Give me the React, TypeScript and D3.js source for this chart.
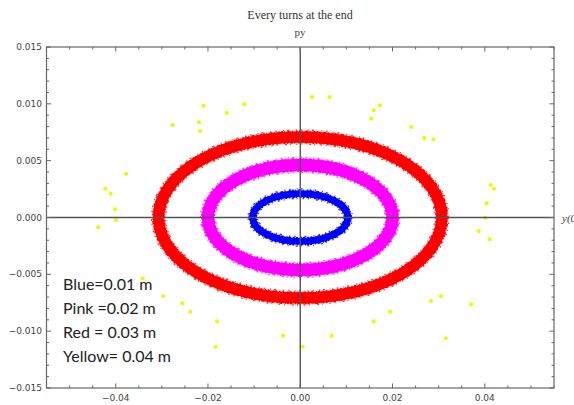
import React from "react";
import * as d3 from "d3";

// ---- data ----
const ringNames = ["Blue", "Pink", "Red"];
const ringColors = ["#0000ff", "#ff00ff", "#ff0000"];
const ringSemiX = [0.0103, 0.02, 0.0307]; // mean semi-axis along y0
const ringSemiY = [0.0021, 0.00462, 0.00708]; // mean semi-axis along py
const ringThickness = [0.0007, 0.00118, 0.0011]; // band width (py units)

const yellowX = [
  -0.02765, -0.02101, -0.02195, -0.02166, -0.01594, -0.01213, 0.00255, 0.00638,
  0.01592, 0.01729, 0.0154, 0.02407, 0.02689, 0.02884, -0.03777, -0.04226,
  -0.04109, -0.04015, -0.03994, -0.04377, -0.03415, 0.04128, 0.042, 0.04041,
  0.04011, 0.03868, 0.04106, -0.02968, -0.02557, -0.02383, -0.01804, -0.01833,
  -0.00374, 0.00053, 0.00682, 0.01592, 0.01952, 0.02834, 0.03051, 0.03153,
  0.03701,
];
const yellowY = [
  0.00814, 0.00984, 0.00838, 0.00761, 0.0092, 0.00996, 0.0106, 0.0106, 0.00943,
  0.00987, 0.00869, 0.00796, 0.007, 0.00688, 0.00383, 0.00253, 0.00209,
  0.00072, -0.00022, -0.00086, -0.00535, 0.00286, 0.00253, 0.00125, -0.00002,
  -0.00119, -0.00192, -0.00691, -0.00755, -0.00829, -0.00913, -0.01137,
  -0.0104, -0.01137, -0.0104, -0.00913, -0.00829, -0.00735, -0.00691, -0.01063,
  -0.00764,
];

const xTickValues = [-0.04, -0.02, 0, 0.02, 0.04];
const yTickValues = [-0.015, -0.01, -0.005, 0, 0.005, 0.01, 0.015];
const legendLines = ["Blue=0.01 m", "Pink =0.02 m", "Red = 0.03 m", "Yellow= 0.04 m"];
const title = "Every turns at the end";
const yAxisLabel = "py";
const xAxisLabel = "y(0)";

const W = 574;
const H = 405;
const L = 46.5, R = 554, T = 47, B = 388;

export default function App() {
  const x = d3.scaleLinear().domain([-0.055, 0.055]).range([L, R]);
  const y = d3.scaleLinear().domain([-0.015, 0.015]).range([B, T]);

  const xMinor = d3.range(-0.055, 0.0551, 0.005).map((v) => +v.toFixed(4));
  const yMinor = d3.range(-0.015, 0.0151, 0.001).map((v) => +v.toFixed(4));
  const fmtX = (v: number) => (v < 0 ? "\u2212" : "") + Math.abs(v).toFixed(2);
  const fmtY = (v: number) => (v < 0 ? "\u2212" : "") + Math.abs(v).toFixed(3);
  const isMajorX = (v: number) => xTickValues.some((t) => Math.abs(t - v) < 1e-6);
  const isMajorY = (v: number) => yTickValues.some((t) => Math.abs(t - v) < 1e-6);

  const cx = x(0);
  const cy = y(0);
  const frameColor = "#666";

  return (
    <svg
      width={W}
      height={H}
      style={{ position: "absolute", left: 0, top: 0, background: "#fff" }}
    >
      <rect x={0} y={0} width={W} height={H} fill="#fff" />
      {/* title */}
      <text x={300} y={19} textAnchor="middle" fontFamily="Liberation Serif" fontSize={12} fill="#333">
        {title}
      </text>
      <text x={300} y={36} textAnchor="middle" fontFamily="Liberation Serif" fontSize={11} fill="#444">
        {yAxisLabel}
      </text>
      <text x={562} y={222} fontFamily="Liberation Serif" fontStyle="italic" fontSize={11} fill="#444">
        {xAxisLabel}
      </text>

      {/* rings */}
      {ringNames.map((n, i) => {
        const rx = x(ringSemiX[i]) - cx;
        const ry = cy - y(ringSemiY[i]);
        const w = cy - y(ringThickness[i]);
        return (
          <g key={n}>
            <ellipse cx={cx} cy={cy} rx={rx} ry={ry} fill="none" stroke={ringColors[i]} strokeWidth={w - 1} />
            <ellipse cx={cx} cy={cy} rx={rx + w / 2 - 0.5} ry={ry + w / 2 - 0.5} fill="none" stroke={ringColors[i]} strokeWidth={1.6} strokeDasharray="2 1 1 2.5 3 1.5 1 3 2 1" />
            <ellipse cx={cx} cy={cy} rx={rx + w / 2 + 0.8} ry={ry + w / 2 + 0.8} fill="none" stroke={ringColors[i]} strokeOpacity={0.8} strokeWidth={1.4} strokeDasharray="1 4 1.5 6 1 3 2 7" />
            <ellipse cx={cx} cy={cy} rx={rx - w / 2 + 0.5} ry={ry - w / 2 + 0.5} fill="none" stroke={ringColors[i]} strokeWidth={1.6} strokeDasharray="1.5 2 2.5 1 1 3 2 1.5" />
            <ellipse cx={cx} cy={cy} rx={rx - w / 2 - 0.8} ry={ry - w / 2 - 0.8} fill="none" stroke={ringColors[i]} strokeOpacity={0.8} strokeWidth={1.4} strokeDasharray="1 5 1.5 4 1 7 2 3" />
          </g>
        );
      })}

      {/* yellow points */}
      {yellowX.map((v, i) => (
        <circle key={i} cx={x(v)} cy={y(yellowY[i])} r={2.1} fill="#f5f500" />
      ))}

      {/* axes through origin */}
      <line x1={L} x2={R} y1={cy} y2={cy} stroke="#555" strokeWidth={1.4} />
      <line x1={cx} x2={cx} y1={T} y2={B} stroke="#555" strokeWidth={1.4} />

      {/* frame */}
      <rect x={L} y={T} width={R - L} height={B - T} fill="none" stroke={frameColor} strokeWidth={1.2} />
      {xMinor.map((v, i) => {
        const len = isMajorX(v) ? 4.5 : 2.5;
        return (
          <g key={"xt" + i}>
            <line x1={x(v)} x2={x(v)} y1={B} y2={B - len} stroke={frameColor} />
            <line x1={x(v)} x2={x(v)} y1={T} y2={T + len} stroke={frameColor} />
          </g>
        );
      })}
      {yMinor.map((v, i) => {
        const len = isMajorY(v) ? 4.5 : 2.5;
        return (
          <g key={"yt" + i}>
            <line x1={L} x2={L + len} y1={y(v)} y2={y(v)} stroke={frameColor} />
            <line x1={R} x2={R - len} y1={y(v)} y2={y(v)} stroke={frameColor} />
          </g>
        );
      })}
      {xTickValues.map((v) => (
        <text key={"xl" + v} x={x(v)} y={401} textAnchor="middle" fontFamily="DejaVu Sans" fontSize={9} fill="#444">
          {fmtX(v)}
        </text>
      ))}
      {yTickValues.map((v) => (
        <text key={"yl" + v} x={42} y={y(v) + 3} textAnchor="end" fontFamily="DejaVu Sans" fontSize={9} fill="#444">
          {fmtY(v)}
        </text>
      ))}

      {/* legend text */}
      {legendLines.map((s, i) => (
        <text key={s} x={63} y={290 + i * 24} fontFamily="Lato" fontSize={16} fill="#222">
          {s}
        </text>
      ))}
    </svg>
  );
}
